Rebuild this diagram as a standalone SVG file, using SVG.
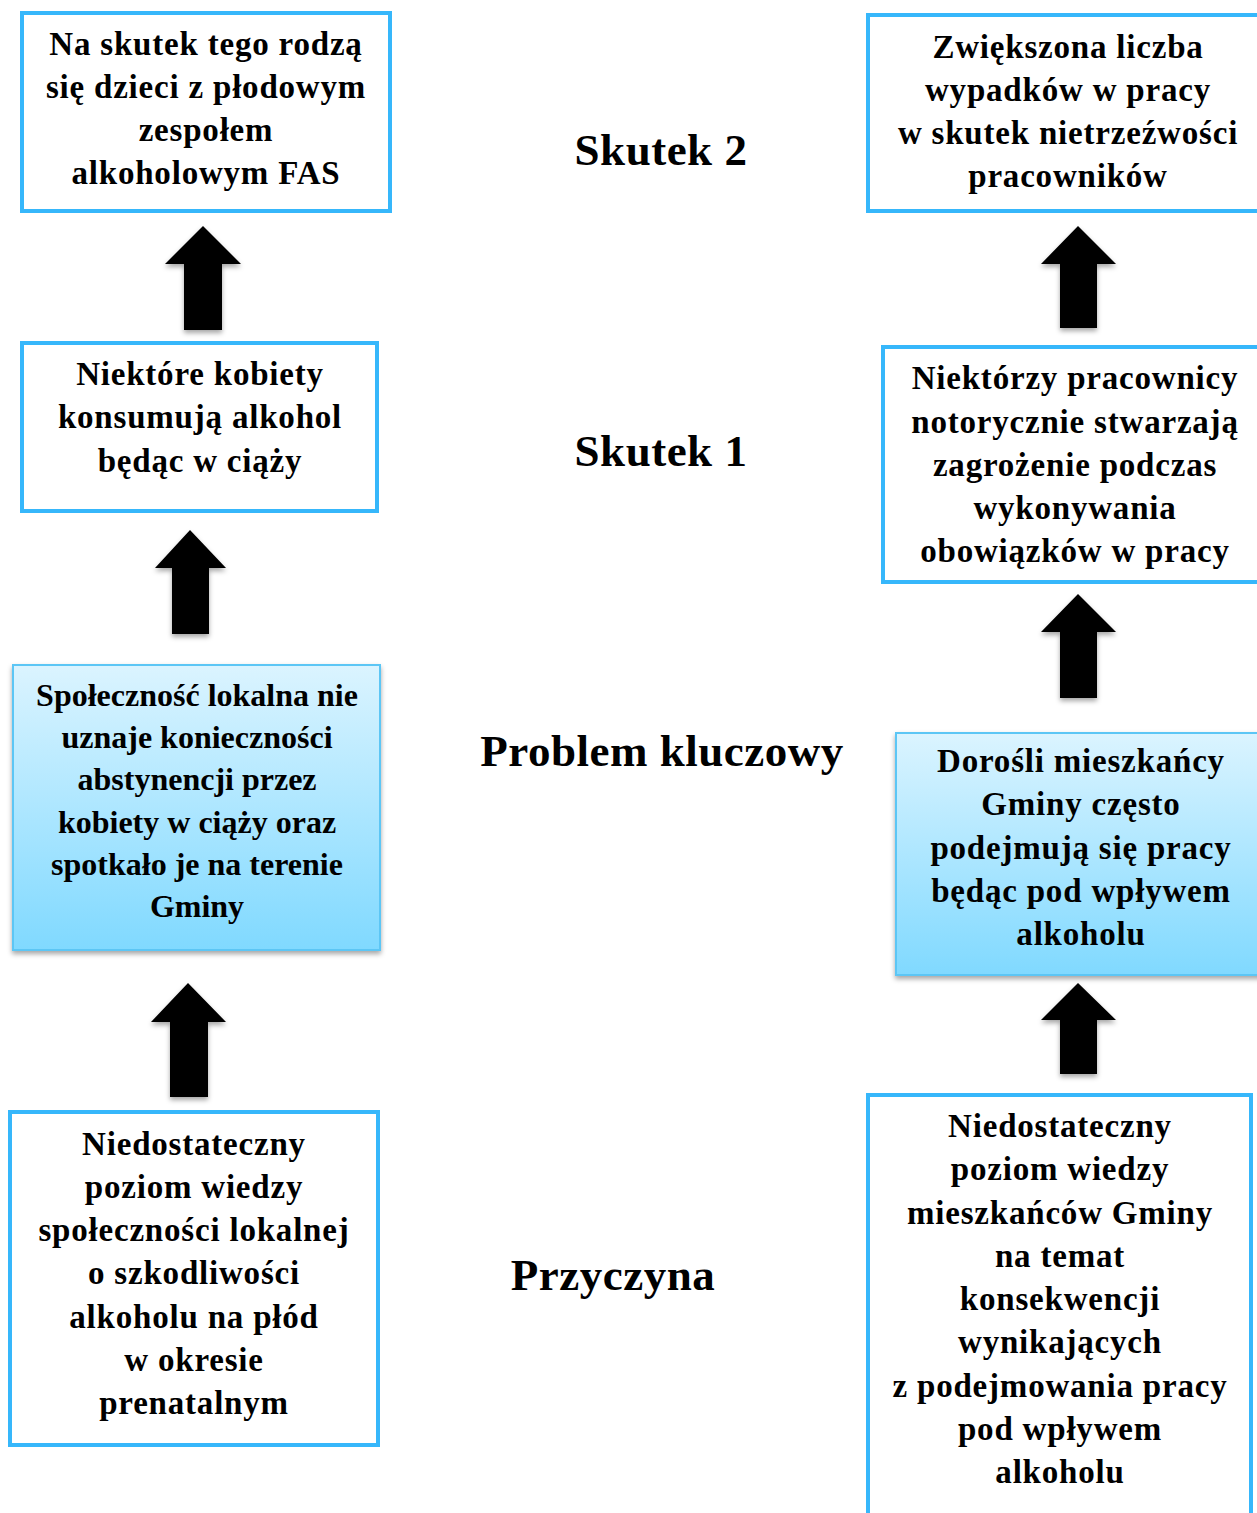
<svg xmlns="http://www.w3.org/2000/svg" width="1257" height="1513" viewBox="0 0 1257 1513">
<style>
.box{fill:#fff;stroke:#36b7fb;stroke-width:4}
.blue{fill:url(#g);stroke:#5cc6f5;stroke-width:2}
.t{font-family:"Liberation Serif",serif;font-weight:bold;font-size:33px;letter-spacing:0.8px;fill:#000;text-anchor:middle}
.tt{font-family:"Liberation Serif",serif;font-weight:bold;font-size:32px;fill:#000;text-anchor:middle}
.h{font-family:"Liberation Serif",serif;font-weight:bold;font-size:45px;letter-spacing:0.5px;fill:#000;text-anchor:middle}
.arr{fill:#000}
</style>
<defs>
<linearGradient id="g" x1="0" y1="0" x2="0" y2="1">
<stop offset="0" stop-color="#dbf4ff"/>
<stop offset="1" stop-color="#80d9ff"/>
</linearGradient>
<filter id="sh" x="-10%" y="-10%" width="130%" height="130%">
<feDropShadow dx="0" dy="3" stdDeviation="2.5" flood-color="#000" flood-opacity="0.35"/>
</filter>
</defs>
<rect width="1257" height="1513" fill="#fff"/>

<g id="label-skutek2"><text class="h" x="661" y="165">Skutek 2</text></g>
<g id="label-skutek1"><text class="h" x="661" y="466">Skutek 1</text></g>
<g id="label-problem"><text class="h" x="662" y="766">Problem kluczowy</text></g>
<g id="label-przyczyna"><text class="h" x="613" y="1290">Przyczyna</text></g>

<g id="connectors" filter="url(#sh)">
<path class="arr" d="M203,226 L241,264 L222,264 L222,330 L184,330 L184,264 L165,264 Z"/>
<path class="arr" d="M190,530 L226,568 L209,568 L209,634 L172,634 L172,568 L155,568 Z"/>
<path class="arr" d="M188,983 L226,1022 L208,1022 L208,1097 L170,1097 L170,1022 L151,1022 Z"/>
<path class="arr" d="M1078,226 L1116,264 L1097,264 L1097,328 L1060,328 L1060,264 L1041,264 Z"/>
<path class="arr" d="M1078,594 L1116,632 L1097,632 L1097,698 L1060,698 L1060,632 L1041,632 Z"/>
<path class="arr" d="M1078,983 L1116,1020 L1097,1020 L1097,1074 L1060,1074 L1060,1020 L1041,1020 Z"/>
</g>

<g id="node-left-skutek2">
<rect class="box" x="22" y="13" width="368" height="198"/>
<text class="t" x="206" y="55">Na skutek tego rodzą</text>
<text class="t" x="206" y="98">się dzieci z płodowym</text>
<text class="t" x="206" y="141">zespołem</text>
<text class="t" x="206" y="184">alkoholowym FAS</text>
</g>

<g id="node-left-skutek1">
<rect class="box" x="22" y="343" width="355" height="168"/>
<text class="t" x="200" y="385">Niektóre kobiety</text>
<text class="t" x="200" y="428">konsumują alkohol</text>
<text class="t" x="200" y="472">będąc w ciąży</text>
</g>

<g id="node-left-problem">
<rect class="blue" x="13" y="665" width="367" height="285" filter="url(#sh)"/>
<text class="tt" x="197" y="706">Społeczność lokalna nie</text>
<text class="tt" x="197" y="748">uznaje konieczności</text>
<text class="tt" x="197" y="790">abstynencji przez</text>
<text class="tt" x="197" y="833">kobiety w ciąży oraz</text>
<text class="tt" x="197" y="875">spotkało je na terenie</text>
<text class="tt" x="197" y="917">Gminy</text>
</g>

<g id="node-left-przyczyna">
<rect class="box" x="10" y="1112" width="368" height="333"/>
<text class="t" x="194" y="1155">Niedostateczny</text>
<text class="t" x="194" y="1198">poziom wiedzy</text>
<text class="t" x="194" y="1241">społeczności lokalnej</text>
<text class="t" x="194" y="1284">o szkodliwości</text>
<text class="t" x="194" y="1328">alkoholu na płód</text>
<text class="t" x="194" y="1371">w okresie</text>
<text class="t" x="194" y="1414">prenatalnym</text>
</g>

<g id="node-right-skutek2">
<rect class="box" x="868" y="15" width="395" height="196"/>
<text class="t" x="1068" y="58">Zwiększona liczba</text>
<text class="t" x="1068" y="101">wypadków w pracy</text>
<text class="t" x="1068" y="144">w skutek nietrzeźwości</text>
<text class="t" x="1068" y="187">pracowników</text>
</g>

<g id="node-right-skutek1">
<rect class="box" x="883" y="347" width="380" height="235"/>
<text class="t" x="1075" y="389">Niektórzy pracownicy</text>
<text class="t" x="1075" y="433">notorycznie stwarzają</text>
<text class="t" x="1075" y="476">zagrożenie podczas</text>
<text class="t" x="1075" y="519">wykonywania</text>
<text class="t" x="1075" y="562">obowiązków w pracy</text>
</g>

<g id="node-right-problem">
<rect class="blue" x="896" y="733" width="367" height="242" filter="url(#sh)"/>
<text class="t" x="1081" y="772">Dorośli mieszkańcy</text>
<text class="t" x="1081" y="815">Gminy często</text>
<text class="t" x="1081" y="859">podejmują się pracy</text>
<text class="t" x="1081" y="902">będąc pod wpływem</text>
<text class="t" x="1081" y="945">alkoholu</text>
</g>

<g id="node-right-przyczyna">
<rect class="box" x="868" y="1095" width="383" height="430"/>
<text class="t" x="1060" y="1137">Niedostateczny</text>
<text class="t" x="1060" y="1180">poziom wiedzy</text>
<text class="t" x="1060" y="1224">mieszkańców Gminy</text>
<text class="t" x="1060" y="1267">na temat</text>
<text class="t" x="1060" y="1310">konsekwencji</text>
<text class="t" x="1060" y="1353">wynikających</text>
<text class="t" x="1060" y="1397">z podejmowania pracy</text>
<text class="t" x="1060" y="1440">pod wpływem</text>
<text class="t" x="1060" y="1483">alkoholu</text>
</g>
</svg>
